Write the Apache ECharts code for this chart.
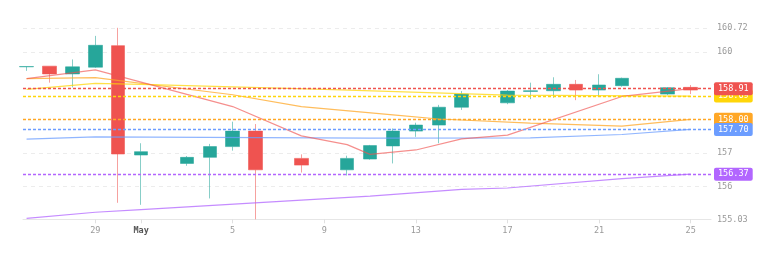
<!DOCTYPE html>
<html>
<head>
<meta charset="utf-8">
<script src="https://cdn.jsdelivr.net/npm/echarts@6/dist/echarts.min.js"></script>
<style>
html,body{margin:0;padding:0;background:#fff;}
#chart{width:770px;height:278px;}
</style>
</head>
<body>
<div id="chart"></div>
<script>
// ---- candle data ----
var candleDates = ['2024-04-26','2024-04-27','2024-04-28','2024-04-29','2024-04-30','2024-05-01','2024-05-03','2024-05-04','2024-05-05','2024-05-06','2024-05-08','2024-05-10','2024-05-11','2024-05-12','2024-05-13','2024-05-14','2024-05-15','2024-05-17','2024-05-18','2024-05-19','2024-05-20','2024-05-21','2024-05-22','2024-05-24','2024-05-25'];
var opens  = [159.56,159.58,159.35,159.55,160.19,156.94,156.69,156.87,157.19,157.65,156.84,156.50,156.82,157.21,157.65,157.83,158.36,158.49,158.83,158.85,159.04,158.87,159.00,158.75,158.95];
var closes = [159.57,159.35,159.56,160.20,156.97,157.04,156.87,157.19,157.65,156.50,156.64,156.84,157.22,157.65,157.83,158.36,158.75,158.84,158.85,159.04,158.87,159.02,159.22,158.94,158.87];
var lows   = [159.44,159.09,158.95,159.53,155.52,155.46,156.62,155.65,157.07,155.03,156.42,156.33,156.80,156.69,157.48,157.29,158.28,158.45,158.60,158.64,158.57,158.67,158.97,158.72,158.75];
var highs  = [159.57,159.58,159.78,160.48,160.72,157.29,156.91,157.27,157.93,157.86,156.96,156.92,157.24,157.73,157.90,158.43,158.84,158.87,159.09,159.25,159.17,159.34,159.24,158.96,159.02];

// ---- line data ----
var redDates = ['2024-04-26','2024-04-29','2024-05-05','2024-05-08','2024-05-10','2024-05-11','2024-05-13','2024-05-15','2024-05-17','2024-05-22','2024-05-25'];
var redValues = [159.21,159.47,158.38,157.51,157.25,156.96,157.09,157.42,157.53,158.68,158.91];
var orangeDates = ['2024-04-26','2024-04-29','2024-05-05','2024-05-08','2024-05-12','2024-05-14','2024-05-18','2024-05-22','2024-05-25'];
var orangeValues = [159.21,159.24,158.73,158.38,158.13,158.01,157.89,157.80,158.00];
var yellowDates = ['2024-04-26','2024-04-29','2024-05-01','2024-05-09','2024-05-17','2024-05-25'];
var yellowValues = [158.89,159.07,159.04,158.89,158.72,158.69];
var blueDates = ['2024-04-26','2024-04-29','2024-05-11','2024-05-18','2024-05-22','2024-05-25'];
var blueValues = [157.41,157.48,157.44,157.45,157.55,157.70];
var purpleDates = ['2024-04-26','2024-04-29','2024-05-01','2024-05-08','2024-05-11','2024-05-15','2024-05-17','2024-05-22','2024-05-25'];
var purpleValues = [155.06,155.24,155.32,155.60,155.72,155.92,155.96,156.24,156.37];

// ---- axis labels ----
var yLabelValues = [155.03,156,157,160,160.72];
var monthNames = ['Jan','Feb','Mar','Apr','May','Jun','Jul','Aug','Sep','Oct','Nov','Dec'];
var yMin = 155.03, yMax = 160.72;

var MONO = 'DejaVu Sans Mono';

function pairs(d, v){ return d.map(function(x,i){ return [x, v[i]]; }); }

function lineSeries(name, dates, values, lineColor, badgeColor){
  var last = values[values.length-1];
  return {
    name: name, type: 'line', data: pairs(dates, values),
    symbol: 'none', smooth: false,
    lineStyle: {color: lineColor, width: 1.2},
    itemStyle: {color: lineColor},
    z: 3,
    markLine: {
      silent: true, symbol: ['none','none'], animation: false,
      lineStyle: {color: badgeColor, type: [3,2], width: 1.3, opacity: 1},
      label: {
        show: true, position: 'end', distance: 3,
        formatter: function(){ return last.toFixed(2); },
        color: '#fff', backgroundColor: badgeColor,
        padding: [2,4,1,4], borderRadius: 2,
        fontFamily: MONO, fontSize: 8.5, lineHeight: 10
      },
      data: [{yAxis: last}]
    }
  };
}

var chart = echarts.init(document.getElementById('chart'));
chart.setOption({
  animation: false,
  backgroundColor: '#fff',
  grid: {left: 23, right: 59, top: 27.8, bottom: 58.7},
  xAxis: {
    type: 'time',
    min: +new Date(2024,3,25,20,15),
    max: +new Date(2024,4,25,21,20),
    axisLine: {lineStyle: {color: '#e6e6e6'}},
    axisTick: {show: true, length: 4, lineStyle: {color: '#e0e0e0'}},
    splitLine: {show: false},
    axisLabel: {
      color: '#999', fontFamily: MONO, fontSize: 8.5, margin: 7,
      formatter: function(v){
        var d = new Date(v);
        if (d.getDate() === 1) return '{m|' + monthNames[d.getMonth()] + '}';
        return String(d.getDate());
      },
      rich: {m: {fontWeight: 'bold', color: '#555', fontFamily: MONO, fontSize: 8.5}}
    }
  },
  yAxis: {
    type: 'value', position: 'right', scale: true,
    min: yMin, max: yMax,
    axisLine: {show: false},
    axisTick: {show: false, customValues: yLabelValues},
    axisLabel: {color: '#999', fontFamily: MONO, fontSize: 8.5, margin: 6, customValues: yLabelValues,
      formatter: function(v){ return String(v); }},
    splitLine: {show: true, lineStyle: {color: '#ececec', type: [4,4]}}
  },
  series: [
    {
      type: 'candlestick',
      data: candleDates.map(function(d,i){ return [d, opens[i], closes[i], lows[i], highs[i]]; }),
      barWidth: 14,
      itemStyle: {
        color: '#26a69a', color0: '#ef5350',
        borderColor: 'rgba(38,166,154,0.55)', borderColor0: 'rgba(239,83,80,0.55)',
        borderWidth: 1
      },
      z: 2
    },
    lineSeries('purple', purpleDates, purpleValues, 'rgba(178,102,255,0.75)', '#b266ff'),
    lineSeries('orange', orangeDates, orangeValues, 'rgba(255,167,38,0.75)', '#ffa726'),
    lineSeries('blue', blueDates, blueValues, 'rgba(108,157,255,0.75)', '#6c9dff'),
    lineSeries('yellow', yellowDates, yellowValues, 'rgba(255,214,10,0.75)', '#ffd60a'),
    lineSeries('red', redDates, redValues, 'rgba(239,83,80,0.65)', '#ef5350')
  ]
});
</script>
</body>
</html>
